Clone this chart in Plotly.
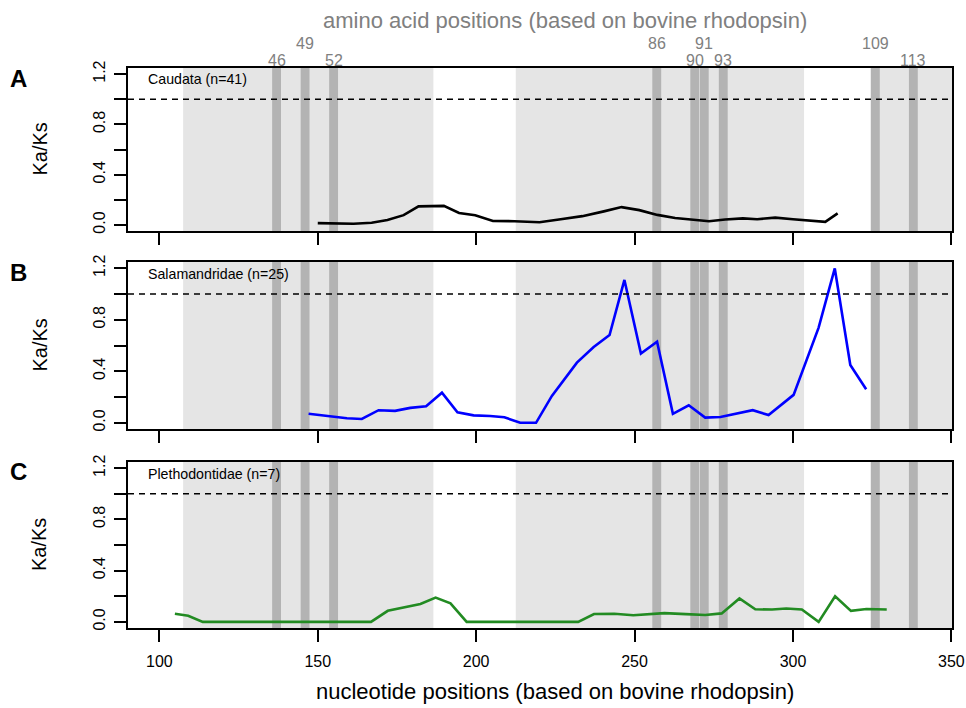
import plotly.graph_objects as go

# ---------------- data ----------------
caudata_x = [150.0, 155.7, 161.3, 167.0, 172.0, 177.1, 181.8, 189.8, 194.6, 199.7, 205.3, 212.1,
             220.0, 226.7, 233.5, 240.3, 245.9, 251.5, 257.2, 262.8, 268.4, 273.5, 278.6, 284.2,
             288.7, 294.4, 300.0, 310.2, 314.1]
caudata_y = [0.015, 0.013, 0.010, 0.018, 0.040, 0.078, 0.148, 0.152, 0.095, 0.078, 0.032, 0.030,
             0.022, 0.046, 0.070, 0.108, 0.142, 0.118, 0.080, 0.055, 0.040, 0.030, 0.043, 0.052,
             0.046, 0.058, 0.045, 0.025, 0.092]

salam_x = [147.1, 151.3, 155.0, 159.2, 163.9, 169.2, 174.4, 179.2, 184.2, 189.2, 194.1, 199.2,
           204.4, 208.9, 213.9, 218.9, 223.9, 231.8, 237.1, 242.1, 246.8, 252.0, 257.1, 262.1,
           267.1, 272.3, 277.1, 282.3, 287.3, 292.3, 300.2, 308.1, 313.2, 318.1, 323.1]
salam_y = [0.071, 0.060, 0.048, 0.035, 0.030, 0.098, 0.093, 0.116, 0.129, 0.234, 0.081, 0.058,
           0.053, 0.043, 0.000, 0.000, 0.209, 0.467, 0.588, 0.681, 1.109, 0.537, 0.630, 0.070,
           0.136, 0.040, 0.045, 0.070, 0.098, 0.060, 0.217, 0.739, 1.198, 0.449, 0.260]

pleth_x = [104.9, 109.1, 113.7, 166.8, 172.1, 177.1, 182.4, 187.2, 191.9, 197.0, 232.2, 237.2,
           243.6, 249.6, 259.4, 266.2, 272.3, 277.5, 283.1, 288.1, 293.4, 297.9, 302.8, 308.1,
           313.3, 318.3, 323.2, 329.6]
pleth_y = [0.063, 0.048, 0.000, 0.000, 0.086, 0.114, 0.139, 0.189, 0.144, 0.000, 0.000, 0.061,
           0.063, 0.052, 0.068, 0.060, 0.053, 0.066, 0.183, 0.098, 0.096, 0.104, 0.096, 0.000,
           0.200, 0.086, 0.100, 0.096]

panel_names = ["Caudata (n=41)", "Salamandridae (n=25)", "Plethodontidae (n=7)"]
panel_letters = ["A", "B", "C"]
line_colors = ["#000000", "#0000ff", "#228b22"]

amino_acids = [46, 49, 52, 86, 90, 91, 93, 109, 113]
aa_upper = [False, True, False, True, False, True, False, True, False]

# light grey regions (nucleotide positions)
region_starts = [107.5, 212.5, 324.5]
region_ends = [186.5, 303.5, 351.0]

x_ticks = [100, 150, 200, 250, 300, 350]
y_ticks = [0.0, 0.2, 0.4, 0.6, 0.8, 1.0, 1.2]
y_ticktext = ["0.0", "", "0.4", "", "0.8", "", "1.2"]

# ---------------- figure ----------------
W, H = 966, 708
left_px, right_px, top_px, bottom_px = 128, 952, 68, 628   # pixels of the plotting area
ml, mr = left_px, W - right_px
mt, mb = top_px, H - bottom_px
ph = bottom_px - top_px
boxes = [(68, 231), (262, 429), (462, 628)]  # pixel top/bottom of each panel
domains = [[(bottom_px - b) / ph, (bottom_px - t) / ph] for t, b in boxes]


def py2paper(py):
    return (bottom_px - py) / ph


def px2paper(px):
    return (px - left_px) / (right_px - left_px)


fig = go.Figure()
series = [(caudata_x, caudata_y), (salam_x, salam_y), (pleth_x, pleth_y)]
shapes = []
annotations = []

for i in range(3):
    ax = "" if i == 0 else str(i + 1)
    xs, ys = series[i]
    fig.add_trace(go.Scatter(x=xs, y=ys, mode="lines",
                             line=dict(color=line_colors[i], width=2.6),
                             xaxis="x" + ax, yaxis="y" + ax, showlegend=False,
                             hoverinfo="skip"))
    xref = "x" + ax
    ydom = "y" + ax + " domain"
    for s, e in zip(region_starts, region_ends):
        shapes.append(dict(type="rect", xref=xref, yref=ydom, x0=s, x1=e, y0=0, y1=1,
                           fillcolor="#e5e5e5", line=dict(width=0), layer="below"))
    for aa in amino_acids:
        c = 3 * aa - 1
        shapes.append(dict(type="rect", xref=xref, yref=ydom, x0=c - 1.4, x1=c + 1.4, y0=0, y1=1,
                           fillcolor="#b3b3b3", line=dict(width=0), layer="below"))
    shapes.append(dict(type="line", xref=xref + " domain", yref="y" + ax, x0=0, x1=1, y0=1.0, y1=1.0,
                       line=dict(color="black", width=1.6, dash="6px,5px"), layer="above"))

    axis_common = dict(showline=True, mirror=True, linecolor="black", linewidth=1.5,
                       ticks="outside", tickcolor="black", tickwidth=1.5, showgrid=False,
                       zeroline=False)
    fig.layout["xaxis" + ax] = dict(axis_common, range=[90.1, 350.2], tickvals=x_ticks,
                                    ticklen=12, showticklabels=(i == 2),
                                    ticklabelstandoff=6,
                                    anchor="y" + ax,
                                    tickfont=dict(size=16, color="black"))
    fig.layout["yaxis" + ax] = dict(axis_common, range=[-0.048, 1.248], domain=domains[i],
                                    tickvals=y_ticks, ticktext=y_ticktext, ticklen=12,
                                    ticklabelstandoff=3,
                                    tickangle=-90, anchor="x" + ax,
                                    tickfont=dict(size=16, color="black"))
    if i > 0:
        fig.layout["xaxis" + ax]["matches"] = "x"

    annotations.append(dict(text=panel_names[i], xref="x" + ax + " domain", yref=ydom,
                            x=0.022, y=0.93, xanchor="left", yanchor="middle",
                            showarrow=False, font=dict(size=14.2, color="black")))
    annotations.append(dict(text="<b>" + panel_letters[i] + "</b>", xref="paper", yref=ydom,
                            x=0, xshift=-110, y=1, yshift=-10, xanchor="center", yanchor="middle",
                            showarrow=False, font=dict(size=24, color="black")))
    annotations.append(dict(text="Ka/Ks", xref="paper", yref=ydom, x=0, xshift=-89,
                            y=0.5, xanchor="center", yanchor="middle", textangle=-90,
                            showarrow=False, font=dict(size=20, color="black")))

for aa, up in zip(amino_acids, aa_upper):
    annotations.append(dict(text=str(aa), xref="x", yref="paper", x=3 * aa - 1,
                            y=py2paper(44 if up else 60), xanchor="center",
                            yanchor="middle", showarrow=False,
                            font=dict(size=16, color="#808080")))
annotations.append(dict(text="amino acid positions (based on bovine rhodopsin)", xref="paper",
                        yref="paper", x=px2paper(565), y=py2paper(20), xanchor="center",
                        yanchor="middle", showarrow=False, font=dict(size=22, color="#808080")))
annotations.append(dict(text="nucleotide positions (based on bovine rhodopsin)", xref="paper",
                        yref="paper", x=px2paper(555), y=py2paper(691), xanchor="center",
                        yanchor="middle", showarrow=False, font=dict(size=22, color="black")))

fig.update_layout(width=W, height=H, margin=dict(l=ml, r=mr, t=mt, b=mb, autoexpand=False),
                  paper_bgcolor="white", plot_bgcolor="white",
                  font=dict(family="Liberation Sans, Arial, sans-serif"),
                  shapes=shapes, annotations=annotations, showlegend=False)

fig.write_html("out.html", config={"displayModeBar": False},
               post_script="document.body.style.margin='0';document.body.style.overflow='hidden';")
